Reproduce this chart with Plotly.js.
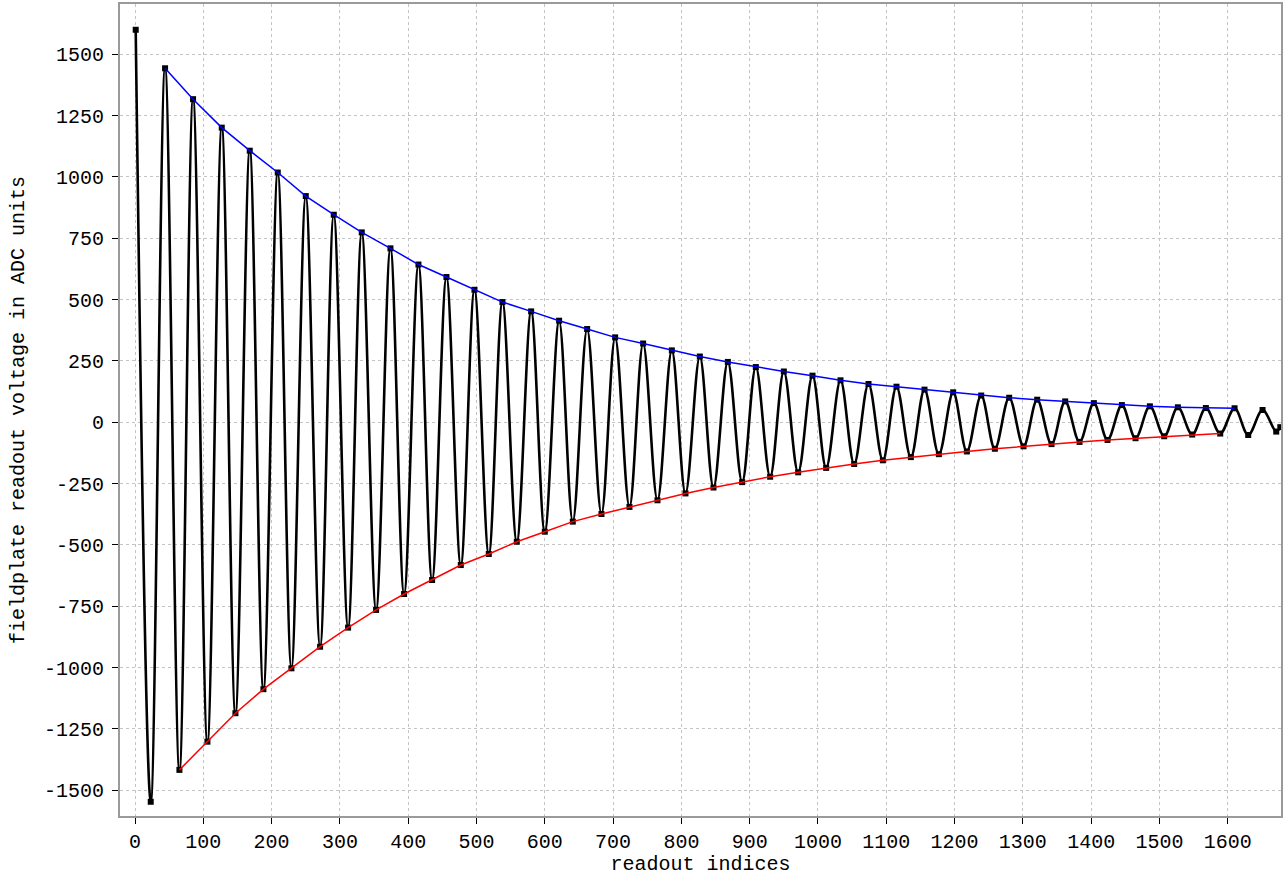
<!DOCTYPE html>
<html>
<head>
<meta charset="utf-8">
<script src="https://cdn.plot.ly/plotly-3.0.1.min.js"></script>
<style>html,body{margin:0;padding:0;background:#fff;}#chart{width:1283px;height:876px;}</style>
</head>
<body>
<div id="chart"></div>
<script>
// Local maxima of the readout signal (readout index, ADC units)
const peakX = [1,44,85,127,168,209,250,291,332,374,415,456,497,538,580,621,662,703,744,786,827,868,909,950,992,1033,1074,1115,1156,1198,1239,1280,1321,1362,1404,1445,1486,1527,1568,1610,1651];
const peakY = [1600,1443,1317,1201,1107,1018,922,846,774,709,643,592,540,490,452,414,380,346,321,293,268,246,225,207,190,171,156,145,133,122,109,100,92,85,78,70,65,61,58,57,50];
// Local minima of the readout signal
const troughX = [23,65,106,147,188,229,271,312,353,394,435,477,518,559,600,641,683,724,765,806,847,889,930,971,1012,1053,1095,1136,1177,1218,1259,1301,1342,1383,1424,1465,1507,1548,1589,1630,1671];
const troughY = [-1547,-1417,-1302,-1186,-1088,-1003,-915,-837,-765,-700,-643,-582,-537,-487,-446,-405,-374,-345,-318,-290,-266,-244,-222,-204,-186,-170,-155,-142,-130,-119,-108,-98,-89,-80,-72,-65,-57,-50,-46,-52,-38];
// last recorded sample
const endX = [1677];
const endY = [-20];
// tick labels
const xTicks = [0,100,200,300,400,500,600,700,800,900,1000,1100,1200,1300,1400,1500,1600];
const yTicks = [-1500,-1250,-1000,-750,-500,-250,0,250,500,750,1000,1250,1500];

// merge extremes into one waveform
const waveX = [], waveY = [];
for (let i = 0; i < peakX.length; i++) {
  waveX.push(peakX[i]); waveY.push(peakY[i]);
  if (i < troughX.length) { waveX.push(troughX[i]); waveY.push(troughY[i]); }
}
waveX.push(endX[0]); waveY.push(endY[0]);

const upperX = peakX.slice(1, 40), upperY = peakY.slice(1, 40);
const lowerX = troughX.slice(1, 39), lowerY = troughY.slice(1, 39);

const font = {family: '"Liberation Mono", "Courier New", monospace', size: 20, color: '#000'};

const traces = [
  {x: waveX, y: waveY, type: 'scatter', mode: 'lines+markers',
   line: {color: '#000', width: 2.6, shape: 'spline', smoothing: 1},
   marker: {symbol: 'square', size: 6, color: '#000'}, showlegend: false},
  {x: upperX, y: upperY, type: 'scatter', mode: 'lines',
   line: {color: 'rgb(0,0,255)', width: 1.5}, showlegend: false},
  {x: lowerX, y: lowerY, type: 'scatter', mode: 'lines',
   line: {color: 'rgb(255,0,0)', width: 1.5}, showlegend: false}
];

const axisCommon = {
  showgrid: true, gridcolor: '#c4c4c4', gridwidth: 1, griddash: '3px,3px',
  zeroline: false, showline: true, linecolor: '#9a9a9a', linewidth: 2, mirror: true,
  ticks: 'outside', ticklen: 6, tickwidth: 1, tickcolor: '#000',
  tickfont: font
};

const layout = {
  width: 1283, height: 876,
  margin: {l: 120, r: 2, t: 4, b: 60},
  paper_bgcolor: '#fff', plot_bgcolor: '#fff',
  showlegend: false,
  xaxis: Object.assign({}, axisCommon, {
    range: [-22, 1678], tickvals: xTicks, ticktext: xTicks.map(String),
    title: {text: 'readout indices', font: font, standoff: 2}
  }),
  yaxis: Object.assign({}, axisCommon, {
    range: [-1605, 1705], tickvals: yTicks, ticktext: yTicks.map(String),
    ticklabelstandoff: 4,
    title: {text: 'fieldplate readout voltage in ADC units', font: font, standoff: 14}
  })
};

Plotly.newPlot('chart', traces, layout, {staticPlot: true, displayModeBar: false});
</script>
</body>
</html>
